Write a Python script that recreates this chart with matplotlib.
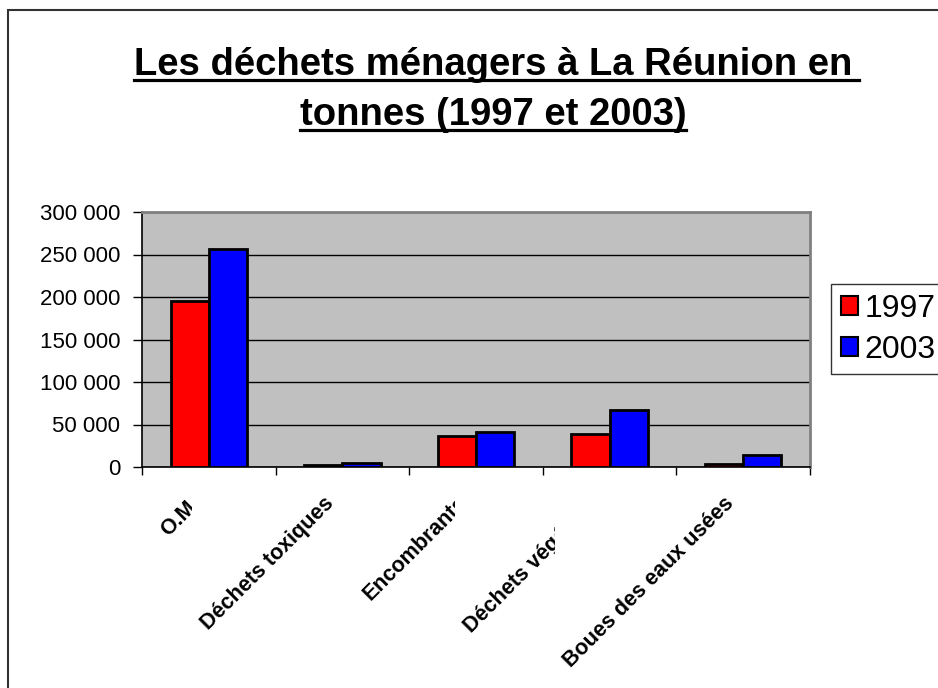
import numpy as np
import matplotlib.pyplot as plt
from matplotlib.patches import Rectangle, Patch
from matplotlib.lines import Line2D
from matplotlib.transforms import Bbox, IdentityTransform, TransformedBbox, ScaledTranslation

# Données (tonnes)
categories = ["O.M.", "Déchets toxiques", "Encombrants", "Déchets végétaux", "Boues des eaux usées"]
years = ["1997", "2003"]
tonnes_1997 = [195000, 2500, 36500, 38500, 3000]
tonnes_2003 = [257000, 4800, 41000, 67500, 14000]
y_ticks = [0, 50000, 100000, 150000, 200000, 250000, 300000]

W, H = 938, 688
plt.rcParams['font.family'] = ['Liberation Sans', 'DejaVu Sans']

fig = plt.figure(figsize=(W / 100, H / 100), dpi=100)
fig.patch.set_facecolor('white')

# cadre du graphique (dépasse à droite et en bas)
fig.add_artist(Rectangle((8 / W, -0.1), 2, (H - 10) / H + 0.1, transform=fig.transFigure,
                         fill=False, edgecolor='#333333', linewidth=1.5))

ax = fig.add_axes([142 / W, (H - 467) / H, (810 - 142) / W, (467 - 212) / H])
ax.set_facecolor('#C0C0C0')

x = np.arange(len(categories))
bw = 1 / 3.5
ax.bar(x - bw / 2, tonnes_1997, bw, color='#FF0000', edgecolor='black', linewidth=2, zorder=3)
ax.bar(x + bw / 2, tonnes_2003, bw, color='#0000FF', edgecolor='black', linewidth=2, zorder=3)

ax.set_xlim(-0.5, len(categories) - 0.5)
ax.set_ylim(0, 300000)
ax.set_yticks(y_ticks)
ax.set_yticklabels([f"{v:,}".replace(",", " ") for v in y_ticks], fontsize=16)
ax.yaxis.grid(True, color='black', linewidth=1, zorder=1)
ax.set_axisbelow(True)

# ticks aux frontières des catégories
ax.set_xticks(np.arange(len(categories) + 1) - 0.5)
ax.set_xticklabels([])
ax.tick_params(axis='x', direction='out', length=6, width=1, color='black')
ax.tick_params(axis='y', direction='out', length=6.5, width=1, color='black', pad=9)

for s in ['top', 'right']:
    ax.spines[s].set_color('#808080')
    ax.spines[s].set_linewidth(2)
for s in ['left', 'bottom']:
    ax.spines[s].set_color('black')
    ax.spines[s].set_linewidth(1.2)

# étiquettes inclinées, tronquées comme dans l'original
clip_x = [192, None, 455, 555, None]
offset = ScaledTranslation(-12 / 100, -33 / 100, fig.dpi_scale_trans)
for i, lab in enumerate(categories):
    t = ax.text(i, 0, lab, transform=ax.get_xaxis_transform() + offset,
                rotation=45, rotation_mode='anchor', ha='right', va='center',
                fontsize=15.5, fontweight='bold')
    if clip_x[i] is not None:
        t.set_clip_box(TransformedBbox(Bbox.from_extents(0, 0, clip_x[i], H), IdentityTransform()))
        t.set_clip_on(True)

# légende
handles = [Patch(facecolor='#FF0000', edgecolor='black', linewidth=1.5),
           Patch(facecolor='#0000FF', edgecolor='black', linewidth=1.5)]
leg = fig.legend(handles, years, loc='upper left', bbox_to_anchor=(831 / W, (H - 284) / H),
                 fontsize=23, frameon=True, fancybox=False, edgecolor='black',
                 handlelength=0.55, handleheight=0.55, handletextpad=0.2,
                 borderpad=0.3, labelspacing=0.35, borderaxespad=0)
leg.get_frame().set_linewidth(1)

# titre souligné
lines = ["Les déchets ménagers à La Réunion en", "tonnes (1997 et 2003)"]
baselines = [75, 125]
extra = [7, 0]  # l'espace final de la 1re ligne est souligné
renderer = fig.canvas.get_renderer()
for txt, yb, ex in zip(lines, baselines, extra):
    t = fig.text(493 / W, (H - yb) / H, txt, ha='center', va='baseline',
                 fontsize=27.5, fontweight='bold')
    bb = t.get_window_extent(renderer)
    yl = (H - yb - 4.5) / H
    fig.add_artist(Line2D([bb.x0 / W, (bb.x1 + ex) / W], [yl, yl], transform=fig.transFigure,
                          color='black', linewidth=2.3))

fig.savefig('out.png', dpi=100)
